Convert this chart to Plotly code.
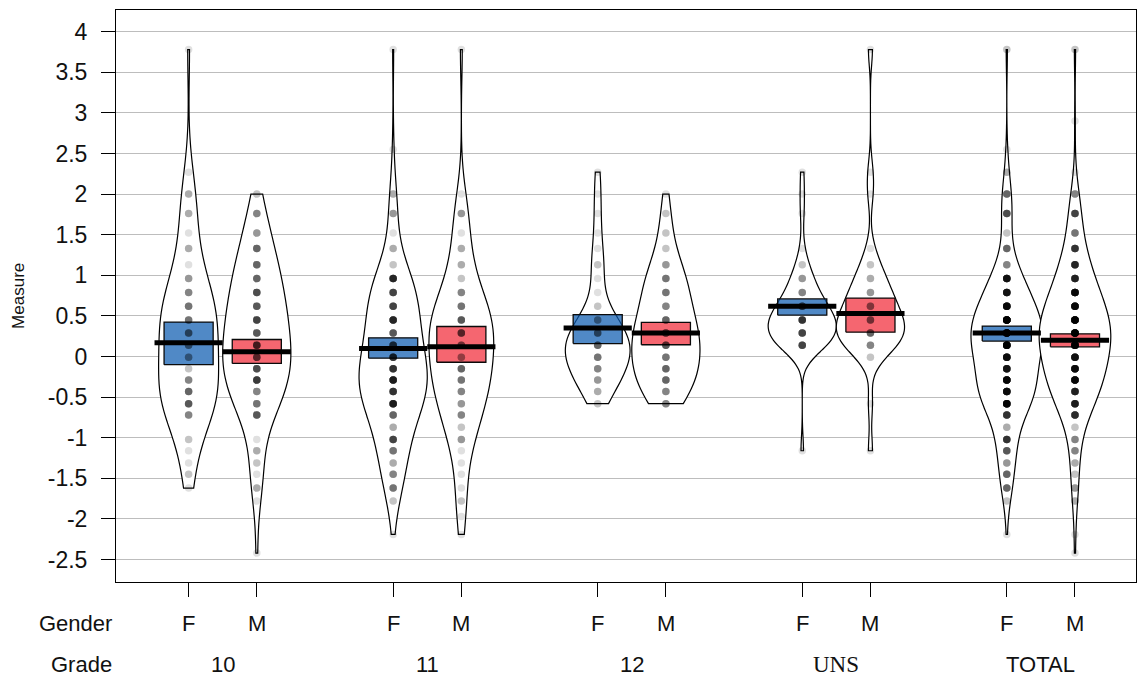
import numpy as np
import plotly.graph_objects as go

# ---------------- data ----------------
LEVELS = [3.78, 2.90, 2.55, 2.27, 2.00, 1.76, 1.52, 1.33, 1.13, 0.96, 0.79,
          0.62, 0.45, 0.29, 0.14, -0.01, -0.15, -0.29, -0.43, -0.58, -0.72,
          -0.87, -1.02, -1.16, -1.31, -1.45, -1.62, -1.78, -1.97, -2.19, -2.42]

GRADES = ["10", "11", "12", "UNS", "TOTAL"]
GENDERS = ["F", "M"]

COUNTS_10_F = [1, 0, 0, 1, 3, 3, 1, 3, 1, 4, 5, 6, 6, 6, 5, 4, 2, 5, 7, 8, 5, 0, 2, 1, 1, 2, 1, 0, 0, 0, 0]
COUNTS_10_M = [0, 0, 0, 0, 2, 5, 4, 7, 7, 7, 9, 8, 10, 8, 10, 8, 9, 11, 5, 6, 8, 0, 1, 3, 2, 1, 3, 1, 0, 0, 1]
COUNTS_11_F = [1, 0, 1, 0, 3, 4, 1, 3, 2, 14, 10, 10, 14, 8, 10, 12, 12, 16, 12, 16, 7, 3, 10, 6, 3, 5, 6, 2, 0, 1, 0]
COUNTS_11_M = [1, 0, 0, 0, 1, 4, 1, 3, 3, 2, 5, 6, 8, 8, 6, 4, 7, 6, 5, 4, 5, 2, 4, 1, 1, 1, 1, 2, 1, 1, 0]
COUNTS_12_F = [0, 0, 0, 1, 1, 1, 1, 1, 2, 1, 1, 2, 4, 6, 7, 6, 5, 4, 3, 2, 0, 0, 0, 0, 0, 0, 0, 0, 0, 0, 0]
COUNTS_12_M = [0, 0, 0, 0, 1, 2, 2, 2, 4, 6, 6, 5, 7, 8, 8, 6, 7, 7, 5, 5, 0, 0, 0, 0, 0, 0, 0, 0, 0, 0, 0]
COUNTS_UNS_F = [0, 0, 0, 1, 1, 1, 0, 1, 2, 4, 5, 8, 12, 10, 10, 0, 0, 0, 0, 0, 0, 0, 0, 1, 0, 0, 0, 0, 0, 0, 0]
COUNTS_UNS_M = [1, 0, 0, 1, 1, 0, 0, 1, 2, 3, 4, 5, 6, 7, 5, 2, 0, 0, 0, 1, 0, 0, 0, 1, 0, 0, 0, 0, 0, 0, 0]
COUNTS_TOTAL_F = [2, 0, 1, 3, 7, 9, 2, 7, 5, 20, 19, 24, 36, 30, 32, 22, 19, 25, 22, 26, 12, 3, 12, 8, 4, 7, 7, 2, 0, 1, 0]
COUNTS_TOTAL_M = [2, 1, 0, 1, 5, 10, 6, 12, 14, 15, 24, 24, 31, 31, 29, 20, 23, 24, 15, 16, 13, 2, 5, 5, 3, 2, 4, 3, 0, 1, 1]

# bean order: 10F, 10M, 11F, 11M, 12F, 12M, UNS F, UNS M, TOTAL F, TOTAL M
MEANS = [0.17, 0.06, 0.10, 0.12, 0.35, 0.29, 0.62, 0.53, 0.29, 0.20]
CI_LOW = [-0.10, -0.085, -0.02, -0.07, 0.16, 0.145, 0.51, 0.30, 0.19, 0.12]
CI_HIGH = [0.425, 0.21, 0.23, 0.37, 0.515, 0.42, 0.71, 0.72, 0.375, 0.28]

Y_TICKS = [4, 3.5, 3, 2.5, 2, 1.5, 1, 0.5, 0, -0.5, -1, -1.5, -2, -2.5]
Y_TICK_TEXT = ["4", "3.5", "3", "2.5", "2", "1.5", "1", "0.5", "0", "-0.5", "-1", "-1.5", "-2", "-2.5"]

# ---------------- layout / style ----------------
BEAN_POS = [1, 2, 4, 5, 7, 8, 10, 11, 13, 14]
BEAN_WIDTH = [0.88, 1.0, 1.0, 0.95, 0.95, 1.0, 1.0, 1.0, 1.05, 1.05]
BW_ADJUST = 1.2
BOX_HALF = 0.36
MEAN_HALF = 0.5
FILL = {"F": "rgba(12,91,176,0.72)", "M": "rgba(238,0,17,0.6)"}
FONT = "Liberation Sans, Arial, sans-serif"

ALL_COUNTS = [COUNTS_10_F, COUNTS_10_M, COUNTS_11_F, COUNTS_11_M, COUNTS_12_F,
              COUNTS_12_M, COUNTS_UNS_F, COUNTS_UNS_M, COUNTS_TOTAL_F, COUNTS_TOTAL_M]


def nrd0(v):
    v = np.asarray(v, dtype=float)
    sd = np.std(v, ddof=1)
    q75, q25 = np.percentile(v, [75, 25])
    lo = min(sd, (q75 - q25) / 1.34)
    if lo <= 0:
        lo = sd if sd > 0 else 1.0
    return 0.9 * lo * len(v) ** (-0.2)


fig = go.Figure()

# violins (beans)
for i, counts in enumerate(ALL_COUNTS):
    vals = np.repeat(np.array(LEVELS), counts)
    fig.add_trace(go.Violin(
        x=[BEAN_POS[i]] * len(vals), y=vals,
        width=BEAN_WIDTH[i], spanmode="hard", bandwidth=BW_ADJUST * nrd0(vals),
        points=False, box_visible=False, meanline_visible=False,
        line=dict(color="black", width=1.2), fillcolor="white",
        showlegend=False, hoverinfo="skip", scalemode="width"))

# inference bands
for i in range(len(BEAN_POS)):
    p = BEAN_POS[i]
    g = GENDERS[i % 2]
    fig.add_trace(go.Scatter(
        x=[p - BOX_HALF, p + BOX_HALF, p + BOX_HALF, p - BOX_HALF, p - BOX_HALF],
        y=[CI_LOW[i], CI_LOW[i], CI_HIGH[i], CI_HIGH[i], CI_LOW[i]],
        mode="lines", fill="toself", fillcolor=FILL[g],
        line=dict(color="rgba(10,10,10,1)", width=1.3),
        showlegend=False, hoverinfo="skip"))

# raw points
for i, counts in enumerate(ALL_COUNTS):
    vals = np.repeat(np.array(LEVELS), counts)
    fig.add_trace(go.Scatter(
        x=[BEAN_POS[i]] * len(vals), y=vals, mode="markers",
        marker=dict(size=7.5, color="black", opacity=0.12, line=dict(width=0)),
        showlegend=False, hoverinfo="skip"))

# mean lines
for i in range(len(BEAN_POS)):
    p = BEAN_POS[i]
    fig.add_trace(go.Scatter(
        x=[p - MEAN_HALF, p + MEAN_HALF], y=[MEANS[i], MEANS[i]],
        mode="lines", line=dict(color="black", width=5),
        showlegend=False, hoverinfo="skip"))

annotations = []
# Gender labels
for i, p in enumerate(BEAN_POS):
    annotations.append(dict(x=p, y=-0.0734, xref="x", yref="paper",
                            text=GENDERS[i % 2], showarrow=False,
                            xanchor="center", yanchor="middle",
                            font=dict(family=FONT, size=22, color="#111")))
# Grade labels
for j, gname in enumerate(GRADES):
    center = (BEAN_POS[2 * j] + BEAN_POS[2 * j + 1]) / 2
    fam = "Liberation Serif, Times New Roman, serif" if gname == "UNS" else FONT
    annotations.append(dict(x=center, y=-0.1434, xref="x", yref="paper",
                            text=gname, showarrow=False,
                            xanchor="center", yanchor="middle",
                            font=dict(family=fam, size=22 if gname != "UNS" else 23, color="#111")))
annotations.append(dict(x=-0.002, y=-0.0734, xref="paper", yref="paper", text="Gender",
                        showarrow=False, xanchor="right", yanchor="middle",
                        font=dict(family=FONT, size=22, color="#111")))
annotations.append(dict(x=-0.002, y=-0.1434, xref="paper", yref="paper", text="Grade",
                        showarrow=False, xanchor="right", yanchor="middle",
                        font=dict(family=FONT, size=22, color="#111")))
annotations.append(dict(x=-0.0962, y=0.5, xref="paper", yref="paper", text="Measure",
                        showarrow=False, textangle=-90, xanchor="center", yanchor="middle",
                        font=dict(family=FONT, size=17, color="#111")))

fig.update_layout(
    width=1148, height=679,
    margin=dict(l=116, r=12, t=10, b=97),
    paper_bgcolor="white", plot_bgcolor="white",
    violinmode="overlay", showlegend=False,
    annotations=annotations,
    xaxis=dict(range=[-0.065, 14.895], tickvals=BEAN_POS, ticktext=[""] * len(BEAN_POS),
               showticklabels=False, ticks="outside", ticklen=14, tickcolor="black",
               tickwidth=1, showgrid=False, zeroline=False, showline=True,
               linecolor="black", linewidth=1, mirror=True),
    yaxis=dict(range=[-2.776, 4.267], tickvals=Y_TICKS, ticktext=Y_TICK_TEXT,
               ticks="outside", ticklen=14, tickcolor="black", tickwidth=1,
               ticklabelstandoff=9,
               tickfont=dict(family=FONT, size=23, color="#111"),
               showgrid=True, gridcolor="#bdbdbd", gridwidth=1, zeroline=False,
               showline=True, linecolor="black", linewidth=1, mirror=True),
)

fig.write_html("out.html", config={"displayModeBar": False},
               post_script="document.body.style.margin='0px';document.body.style.overflow='hidden';")
